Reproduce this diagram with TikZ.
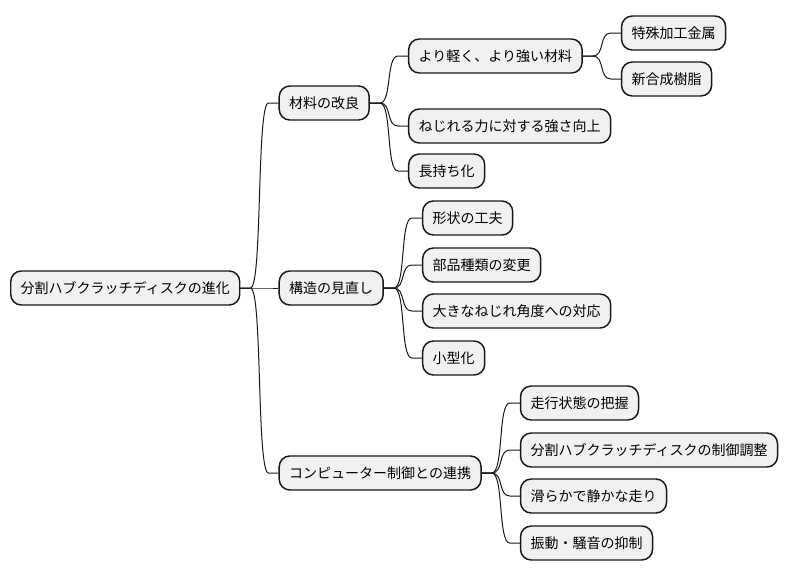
\documentclass[tikz,border=0pt]{standalone}
\usepackage{fontspec}
\setmainfont{Noto Sans CJK JP}
\usetikzlibrary{calc}

\definecolor{boxgray}{HTML}{F1F1F1}
\definecolor{linegray}{HTML}{181818}

\tikzset{
  topic/.style = {draw=linegray, line width=1.1pt, fill=boxgray, rounded corners=8pt,
                  anchor=west, inner xsep=7.5pt, inner ysep=0pt, minimum height=25.5pt,
                  font=\fontsize{10.5}{12}\selectfont},
  branch/.style = {draw=linegray, line width=0.75pt}
}
% curved connector from a parent to a child
\newcommand{\twig}[2]{\draw[branch] (#1.east) -- ++(10,0) .. controls +(12,0) and +(-12,0) .. ($(#2.west)+(-10,0)$) -- (#2.west);}

\begin{document}
\begin{tikzpicture}[x=0.75pt, y=-0.75pt]
                \useasboundingbox (0,0) rectangle (790,576);

                % Root
                \node[topic] (evo) at (10,288) {分割ハブクラッチディスクの進化};

                % First level
                \node[topic] (mat) at ($(evo.east)+(38,-185)$) {材料の改良};
                \node[topic] (str) at ($(evo.east)+(38,0)$) {構造の見直し};
                \node[topic] (com) at ($(evo.east)+(38,185)$) {コンピューター制御との連携};

                % Materials
                \node[topic] (light) at ($(mat.east)+(38,-47)$) {より軽く、より強い材料};
                \node[topic] (twist) at ($(mat.east)+(38,23)$) {ねじれる力に対する強さ向上};
                \node[topic] (life) at ($(mat.east)+(38,68)$) {長持ち化};
                \node[topic] (metal) at ($(light.east)+(38,-23)$) {特殊加工金属};
                \node[topic] (resin) at ($(light.east)+(38,23)$) {新合成樹脂};

                % Structure
                \node[topic] (shape) at ($(str.east)+(38,-70)$) {形状の工夫};
                \node[topic] (parts) at ($(str.east)+(38,-23)$) {部品種類の変更};
                \node[topic] (angle) at ($(str.east)+(38,23)$) {大きなねじれ角度への対応};
                \node[topic] (small) at ($(str.east)+(38,70)$) {小型化};

                % Computer control
                \node[topic] (sense) at ($(com.east)+(38,-70)$) {走行状態の把握};
                \node[topic] (tune) at ($(com.east)+(38,-23)$) {分割ハブクラッチディスクの制御調整};
                \node[topic] (quiet) at ($(com.east)+(38,23)$) {滑らかで静かな走り};
                \node[topic] (damp) at ($(com.east)+(38,70)$) {振動・騒音の抑制};

                % Connectors
                \foreach \c in {mat,str,com} {\twig{evo}{\c}}
                \foreach \c in {light,twist,life} {\twig{mat}{\c}}
                \foreach \c in {metal,resin} {\twig{light}{\c}}
                \foreach \c in {shape,parts,angle,small} {\twig{str}{\c}}
                \foreach \c in {sense,tune,quiet,damp} {\twig{com}{\c}}
\end{tikzpicture}
\end{document}
